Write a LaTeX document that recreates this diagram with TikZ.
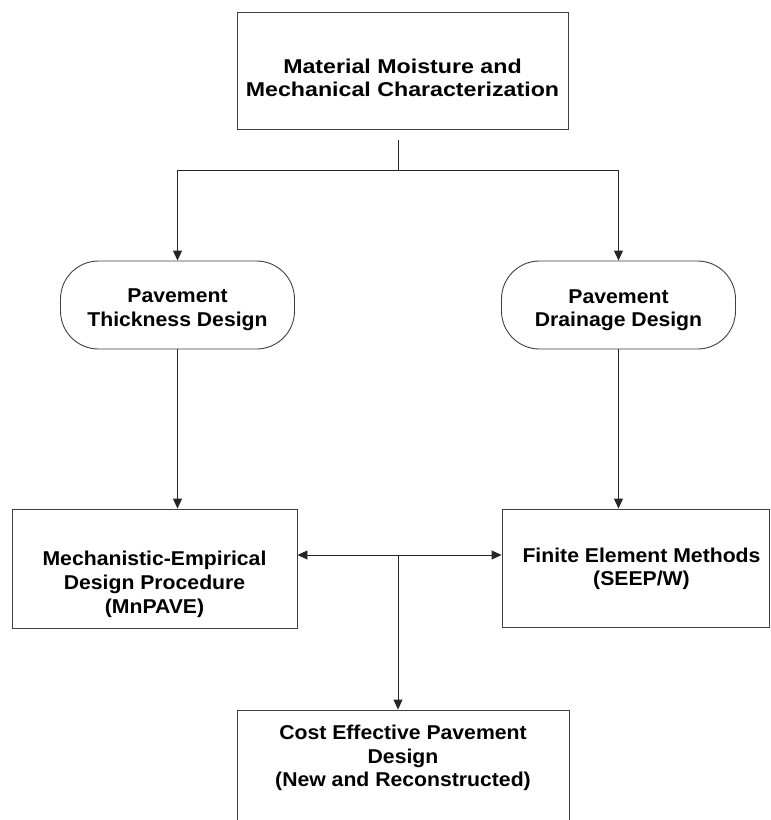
\documentclass[tikz,border=0pt]{standalone}
\usepackage{fontspec}
\setmainfont{Liberation Sans}[FakeStretch=1.06]
\newfontfamily\widefont{Liberation Sans}[FakeStretch=1.16]
\usetikzlibrary{arrows.meta}

\begin{document}
\begin{tikzpicture}[
x=1pt, y=-1pt,
box/.style={rectangle, draw=black!75, line width=0.9pt, inner sep=0pt},
pill/.style={box, rounded corners=38pt, minimum width=234pt, minimum height=88pt},
boxtext/.style={font=\bfseries\fontsize{20}{23.5}\selectfont, align=center, inner sep=0pt},
arr/.style={draw=black!85, line width=0.9pt, -{Triangle[length=10pt, width=9pt]}},
arrboth/.style={arr, {Triangle[length=10pt, width=9pt]}-{Triangle[length=10pt, width=9pt]}},
]
\useasboundingbox (0,0) rectangle (771,820);
\clip (0,0) rectangle (771,820);

\node[box, minimum width=331pt, minimum height=117pt,
      label={[boxtext, font=\widefont\bfseries\fontsize{20}{23}\selectfont, yshift=-7.5pt]center:{Material Moisture and\\Mechanical Characterization}}]
      (matchar) at (402.5,70.5) {};

\node[pill, label={[boxtext, yshift=-4.5pt]center:{Pavement\\Thickness Design}}]
      (thick) at (177.5,305) {};
\node[pill, label={[boxtext, yshift=-5pt]center:{Pavement\\Drainage Design}}]
      (drain) at (618.5,305) {};

\node[box, minimum width=285pt, minimum height=119pt,
      label={[boxtext, font=\bfseries\fontsize{20}{24}\selectfont, yshift=-16pt]center:{Mechanistic-Empirical\\Design Procedure\\(MnPAVE)}}]
      (mepd) at (154.5,568.5) {};
\node[box, minimum width=267pt, minimum height=118pt,
      label={[boxtext, xshift=6pt, yshift=-1pt]center:{Finite Element Methods\\(SEEP/W)}}]
      (fem) at (635.5,568) {};

\node[box, minimum width=332pt, minimum height=140pt,
      label={[boxtext, yshift=22pt]center:{Cost Effective Pavement\\Design\\(New and Reconstructed)}}]
      (cost) at (403,780) {};

% branch points
\coordinate (split) at (398,170);
\coordinate (hub) at (398,555);

\draw[draw=black!85, line width=0.9pt, shorten <=11pt] (matchar.south -| split) -- (split);
\draw[arr] (split) -| (thick.north);
\draw[arr] (split) -| (drain.north);

\draw[arr] (thick.south) -- (thick.south |- mepd.north);
\draw[arr] (drain.south) -- (drain.south |- fem.north);

\draw[arrboth] (hub -| mepd.east) -- (hub -| fem.west);
\draw[arr] (hub) -- (hub |- cost.north);
\end{tikzpicture}
\end{document}
